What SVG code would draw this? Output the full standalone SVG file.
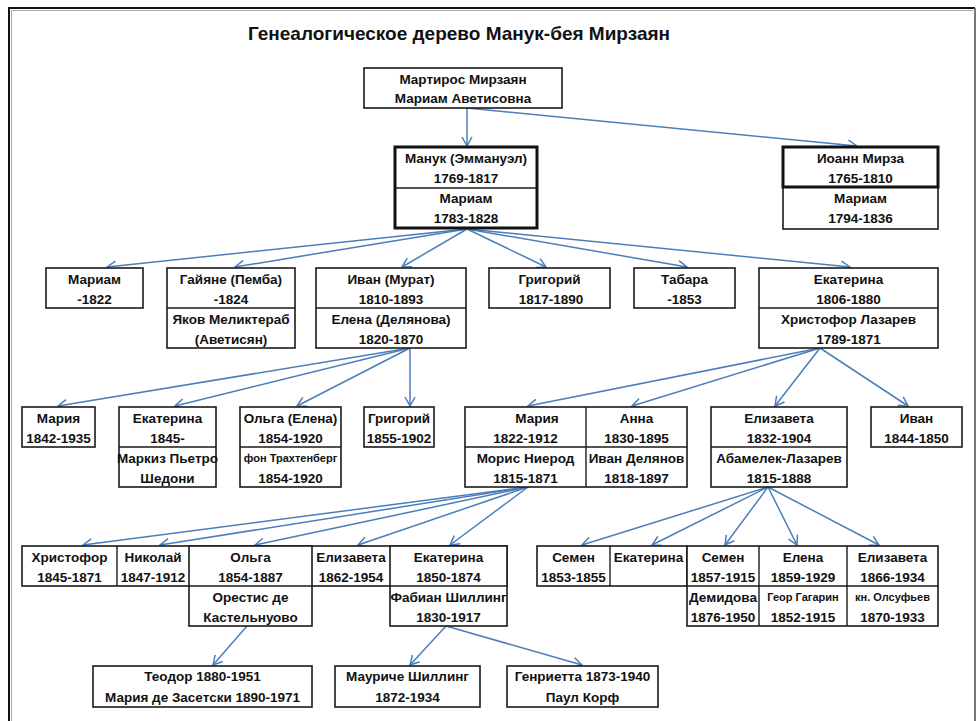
<svg xmlns="http://www.w3.org/2000/svg" width="976" height="721" viewBox="0 0 976 721">
<defs>
<marker id="ah" markerUnits="userSpaceOnUse" markerWidth="14" markerHeight="14" viewBox="-11 -7 13 14" refX="0" refY="0" orient="auto">
<path d="M-9,-5 L0,0 L-9,5" fill="none" stroke="#4a7ebb" stroke-width="1.5"/>
</marker>
</defs>
<style>
.b{fill:#fff;stroke:#1a1a1a;stroke-width:1.6}
.k{fill:none;stroke:#111;stroke-width:3}
.d{stroke:#1a1a1a;stroke-width:1.4}
text{font-family:"Liberation Sans",Arial,sans-serif;font-weight:bold;font-size:13.5px;fill:#111;text-anchor:middle}
.s{font-size:11px}
.title{font-size:19px}
.c line{stroke:#4a7ebb;stroke-width:1.5;marker-end:url(#ah)}
</style>
<rect width="976" height="721" fill="#fff"/>
<g id="frame">
<path d="M9,721 V8 H975" fill="none" stroke="#111" stroke-width="2"/>
<path d="M11.5,721 V10.5 H973" fill="none" stroke="#aaa" stroke-width="1"/>
<path d="M975,8 V721" fill="none" stroke="#777" stroke-width="2"/>
</g>
<text class="title" x="459" y="40">Генеалогическое дерево Манук-бея Мирзаян</text>

<g class="c" id="connectors">
<line x1="467" y1="108" x2="467" y2="146"/>
<line x1="467" y1="108" x2="857" y2="146"/>
<line x1="467" y1="229" x2="107" y2="267"/>
<line x1="467" y1="229" x2="235" y2="267"/>
<line x1="467" y1="229" x2="402" y2="267"/>
<line x1="467" y1="229" x2="546" y2="267"/>
<line x1="467" y1="229" x2="687" y2="267"/>
<line x1="467" y1="229" x2="850" y2="267"/>
<line x1="410" y1="348" x2="58" y2="406"/>
<line x1="410" y1="348" x2="175" y2="406"/>
<line x1="410" y1="348" x2="297" y2="406"/>
<line x1="410" y1="348" x2="410" y2="406"/>
<line x1="820" y1="348" x2="528" y2="406"/>
<line x1="820" y1="348" x2="632" y2="406"/>
<line x1="820" y1="348" x2="775" y2="406"/>
<line x1="820" y1="348" x2="908" y2="406"/>
<line x1="528" y1="487" x2="83" y2="545"/>
<line x1="528" y1="487" x2="160" y2="545"/>
<line x1="528" y1="487" x2="255" y2="545"/>
<line x1="528" y1="487" x2="358" y2="545"/>
<line x1="528" y1="487" x2="450" y2="545"/>
<line x1="768" y1="487" x2="582" y2="545"/>
<line x1="768" y1="487" x2="652" y2="545"/>
<line x1="768" y1="487" x2="725" y2="545"/>
<line x1="768" y1="487" x2="797" y2="545"/>
<line x1="768" y1="487" x2="879" y2="545"/>
<line x1="247" y1="626" x2="213" y2="665"/>
<line x1="446" y1="626" x2="410" y2="665"/>
<line x1="446" y1="626" x2="582" y2="665"/>
</g>

<g id="n-martiros">
<rect class="b" x="364" y="68" width="198" height="40"/>
<text x="463" y="83.5">Мартирос Мирзаян</text>
<text x="463" y="103">Мариам Аветисовна</text>
</g>

<g id="n-manuk">
<rect class="b" x="395" y="147" width="142" height="81"/>
<line class="d" x1="395" y1="188" x2="537" y2="188"/>
<rect class="k" x="395" y="147" width="142" height="81"/>
<text x="466" y="162.5">Манук (Эммануэл)</text>
<text x="466" y="182.5">1769-1817</text>
<text x="466" y="202.5">Мариам</text>
<text x="466" y="222.5">1783-1828</text>
</g>

<g id="n-ioann">
<rect class="b" x="783" y="147" width="155" height="82"/>
<rect class="k" x="783" y="147" width="155" height="40"/>
<text x="860.5" y="162.5">Иоанн Мирза</text>
<text x="860.5" y="182.5">1765-1810</text>
<text x="860.5" y="202.5">Мариам</text>
<text x="860.5" y="222.5">1794-1836</text>
</g>

<g id="n-mariam">
<rect class="b" x="46" y="268" width="97" height="40"/>
<text x="94.5" y="283.5">Мариам</text>
<text x="94.5" y="303.5">-1822</text>
</g>

<g id="n-gayane">
<rect class="b" x="167" y="268" width="128" height="80"/>
<line class="d" x1="167" y1="308" x2="295" y2="308"/>
<text x="231" y="283.5">Гайяне (Пемба)</text>
<text x="231" y="303.5">-1824</text>
<text x="231" y="323.5">Яков Меликтераб</text>
<text x="231" y="343.5">(Аветисян)</text>
</g>

<g id="n-ivan-murat">
<rect class="b" x="316" y="268" width="150" height="80"/>
<line class="d" x1="316" y1="308" x2="466" y2="308"/>
<text x="391" y="283.5">Иван (Мурат)</text>
<text x="391" y="303.5">1810-1893</text>
<text x="391" y="323.5">Елена (Делянова)</text>
<text x="391" y="343.5">1820-1870</text>
</g>

<g id="n-grigoriy1">
<rect class="b" x="489" y="268" width="121" height="40"/>
<text x="549.5" y="283.5">Григорий</text>
<text x="551" y="303.5">1817-1890</text>
</g>

<g id="n-tabara">
<rect class="b" x="634" y="268" width="101" height="40"/>
<text x="684.5" y="283.5">Табара</text>
<text x="684.5" y="303.5">-1853</text>
</g>

<g id="n-ekaterina1">
<rect class="b" x="759" y="268" width="179" height="80"/>
<line class="d" x1="759" y1="308" x2="938" y2="308"/>
<text x="848.5" y="283.5">Екатерина</text>
<text x="848.5" y="303.5">1806-1880</text>
<text x="848.5" y="323.5">Христофор Лазарев</text>
<text x="848.5" y="343.5">1789-1871</text>
</g>

<g id="n-mariya1">
<rect class="b" x="22" y="407" width="73" height="40"/>
<text x="58.5" y="422.5">Мария</text>
<text x="58.5" y="442.5">1842-1935</text>
</g>

<g id="n-ekaterina2">
<rect class="b" x="119" y="407" width="97" height="80"/>
<line class="d" x1="119" y1="447" x2="216" y2="447"/>
<text x="167.5" y="422.5">Екатерина</text>
<text x="167.5" y="442.5">1845-</text>
<text x="167.5" y="462.5">Маркиз Пьетро</text>
<text x="167.5" y="482.5">Шедони</text>
</g>

<g id="n-olga1">
<rect class="b" x="240" y="407" width="101" height="80"/>
<line class="d" x1="240" y1="447" x2="341" y2="447"/>
<text x="290.5" y="422.5">Ольга (Елена)</text>
<text x="290.5" y="442.5">1854-1920</text>
<text class="s" x="290.5" y="461.5">фон Трахтенберг</text>
<text x="290.5" y="482.5">1854-1920</text>
</g>

<g id="n-grigoriy2">
<rect class="b" x="364" y="407" width="70" height="40"/>
<text x="399" y="422.5">Григорий</text>
<text x="399" y="442.5">1855-1902</text>
</g>

<g id="n-mariya-anna">
<rect class="b" x="465" y="407" width="222" height="80"/>
<line class="d" x1="465" y1="447" x2="687" y2="447"/>
<line class="d" x1="586" y1="407" x2="586" y2="487"/>
<text x="537" y="422.5">Мария</text>
<text x="525.5" y="442.5">1822-1912</text>
<text x="525.5" y="462.5">Морис Ниерод</text>
<text x="525.5" y="482.5">1815-1871</text>
<text x="636.5" y="422.5">Анна</text>
<text x="636.5" y="442.5">1830-1895</text>
<text x="636.5" y="462.5">Иван Делянов</text>
<text x="636.5" y="482.5">1818-1897</text>
</g>

<g id="n-elizaveta1">
<rect class="b" x="711" y="407" width="136" height="80"/>
<line class="d" x1="711" y1="447" x2="847" y2="447"/>
<text x="779" y="422.5">Елизавета</text>
<text x="779" y="442.5">1832-1904</text>
<text x="779" y="462.5">Абамелек-Лазарев</text>
<text x="779" y="482.5">1815-1888</text>
</g>

<g id="n-ivan2">
<rect class="b" x="871" y="407" width="91" height="40"/>
<text x="916.5" y="422.5">Иван</text>
<text x="916.5" y="442.5">1844-1850</text>
</g>

<g id="n-row4-left">
<rect class="b" x="22" y="546" width="485" height="40"/>
<rect class="b" x="189" y="546" width="123" height="80"/>
<rect class="b" x="390" y="546" width="117" height="80"/>
<line class="d" x1="117" y1="546" x2="117" y2="586"/>
<line class="d" x1="189" y1="586" x2="312" y2="586"/>
<line class="d" x1="390" y1="586" x2="507" y2="586"/>
<text x="69.5" y="561.5">Христофор</text>
<text x="69.5" y="581.5">1845-1871</text>
<text x="153" y="561.5">Николай</text>
<text x="153" y="581.5">1847-1912</text>
<text x="250.5" y="561.5">Ольга</text>
<text x="250.5" y="581.5">1854-1887</text>
<text x="250.5" y="601.5">Орестис де</text>
<text x="250.5" y="621.5">Кастельнуово</text>
<text x="351" y="561.5">Елизавета</text>
<text x="351" y="581.5">1862-1954</text>
<text x="448.5" y="561.5">Екатерина</text>
<text x="448.5" y="581.5">1850-1874</text>
<text x="448.5" y="601.5">Фабиан Шиллинг</text>
<text x="448.5" y="621.5">1830-1917</text>
</g>

<g id="n-row4-right">
<rect class="b" x="537" y="546" width="150" height="40"/>
<rect class="b" x="687" y="546" width="251" height="80"/>
<line class="d" x1="610" y1="546" x2="610" y2="586"/>
<line class="d" x1="759" y1="546" x2="759" y2="626"/>
<line class="d" x1="847" y1="546" x2="847" y2="626"/>
<line class="d" x1="687" y1="586" x2="938" y2="586"/>
<text x="573.5" y="561.5">Семен</text>
<text x="573.5" y="581.5">1853-1855</text>
<text x="648.5" y="561.5">Екатерина</text>
<text x="723" y="561.5">Семен</text>
<text x="723" y="581.5">1857-1915</text>
<text x="723" y="601.5">Демидова</text>
<text x="723" y="621.5">1876-1950</text>
<text x="803" y="561.5">Елена</text>
<text x="803" y="581.5">1859-1929</text>
<text class="s" x="803" y="600.5">Геор Гагарин</text>
<text x="803" y="621.5">1852-1915</text>
<text x="892.5" y="561.5">Елизавета</text>
<text x="892.5" y="581.5">1866-1934</text>
<text class="s" x="892.5" y="600.5">кн. Олсуфьев</text>
<text x="892.5" y="621.5">1870-1933</text>
</g>

<g id="n-teodor">
<rect class="b" x="93" y="666" width="219" height="41"/>
<text x="202.5" y="680.5">Теодор 1880-1951</text>
<text x="202.5" y="701.5">Мария де Засетски 1890-1971</text>
</g>

<g id="n-maurice">
<rect class="b" x="335" y="666" width="145" height="41"/>
<text x="407.5" y="680.5">Мауриче Шиллинг</text>
<text x="407.5" y="701.5">1872-1934</text>
</g>

<g id="n-genrietta">
<rect class="b" x="507" y="666" width="151" height="41"/>
<text x="582.5" y="680.5">Генриетта 1873-1940</text>
<text x="582.5" y="701.5">Паул Корф</text>
</g>
</svg>
